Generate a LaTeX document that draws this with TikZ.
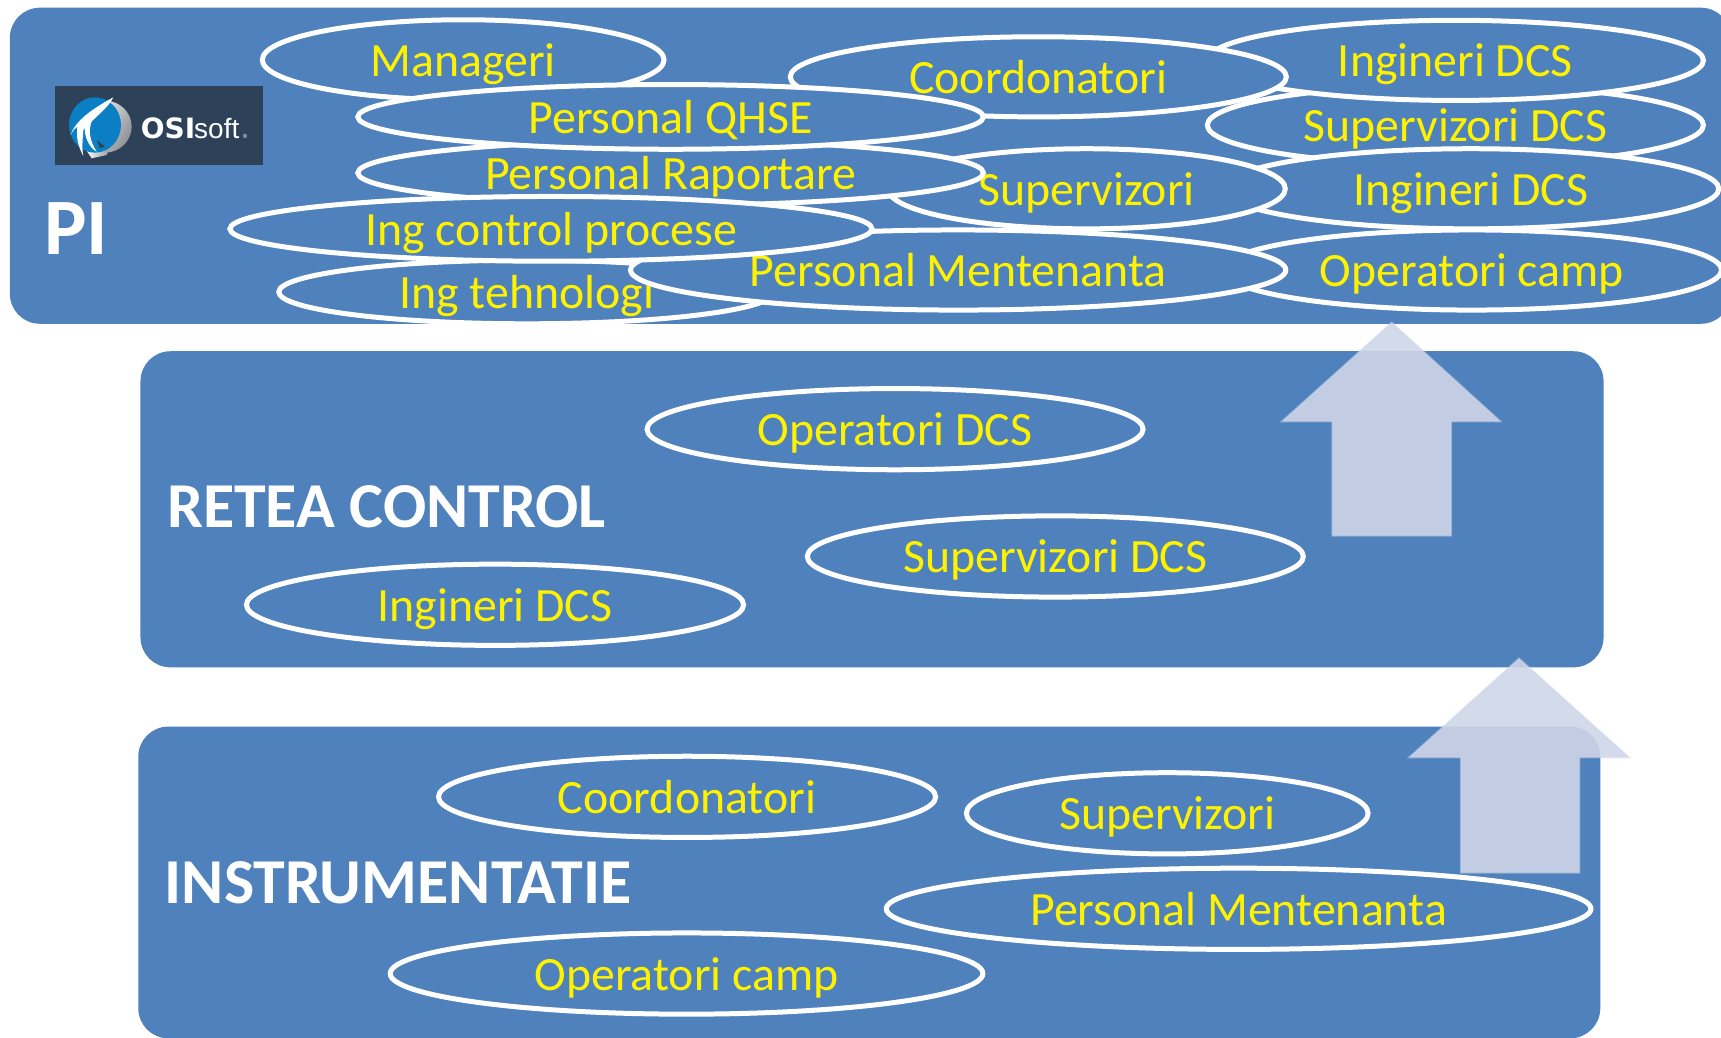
\documentclass[tikz,border=0pt]{standalone}
\usepackage{fontspec}
\setmainfont{Carlito}
\newfontfamily\logobold{DejaVu Sans}[BoldFont={DejaVu Sans Bold}]
\newfontfamily\logolight{Liberation Sans}
\usetikzlibrary{shapes.geometric}
\definecolor{bandblue}{HTML}{4F81BD}
\definecolor{arrowfill}{HTML}{CFD6E8}
\definecolor{logodark}{HTML}{2D4259}
\definecolor{logoblue}{HTML}{0A7FC4}
\definecolor{logogray}{HTML}{8E9296}
\newcommand{\ellipsefont}{\fontsize{47.8}{52}\selectfont}
\tikzset{
  x=1.0976pt,y=-1.0976pt,
  band/.style={fill=bandblue,draw=none,rounded corners=30pt},
  role/.style 2 args={ellipse,draw=white,line width=5pt,fill=bandblue,text=yellow,inner sep=0pt,
    font=\ellipsefont,text height=33pt,text depth=0pt,
    minimum width=#1*1.0976pt,minimum height=#2*1.0976pt},
  bandtitle/.style={text=white,font=\fontsize{64}{70}\selectfont\bfseries,inner sep=0pt,anchor=base west},
  uparrow/.style={fill=arrowfill,fill opacity=.9,draw=arrowfill,draw opacity=.5,line width=2pt,miter limit=10},
}
\begin{document}
\begin{tikzpicture}
\useasboundingbox (0,0) rectangle (1568,945.7);
\fill[white] (0,0) rectangle (1568,945.7);
% bands
\fill[band] (9,7) rectangle (1577,295);
\fill[band] (128,320) rectangle (1461,608);
\fill[band] (126,662) rectangle (1458,946);
% top band ellipses, lowest first
\node[role={452}{73}] (supdcsa) at (1326,114) {Supervizori DCS};
\node[role={452}{73}] (ingdcsa) at (1326,55) {Ingineri DCS};
\node[role={452}{73}] (coorda) at (946,70) {Coordonatori};
\node[role={455}{73}] (opa) at (1341,246) {Operatori camp};
\node[role={452}{73}] (ingdcsb) at (1340,172) {Ingineri DCS};
\node[role={362}{73}] (supa) at (990,172) {Supervizori};
\node[role={452}{58}] (ingteh) at (480,266) {Ing tehnologi};
\node[role={597}{73}] (menta) at (873,246) {Personal Mentenanta};
\node[role={366}{73}] (man) at (422,54.5) {Manageri};
\node[role={570}{59}] (rap) at (611,157.5) {Personal Raportare};
\node[role={585}{59}] (ingctl) at (502,208.5) {Ing control procese};
\node[role={570}{59}] (qhse) at (611,106.5) {Personal QHSE};
% middle band
\node[role={452}{74}] (opdcs) at (815.5,391) {Operatori DCS};
\node[role={452}{74}] (supdcsb) at (961.5,507) {Supervizori DCS};
\node[role={453}{74}] (ingdcsc) at (451,551) {Ingineri DCS};
% bottom band
\node[role={453}{74}] (coordb) at (626,726) {Coordonatori};
\node[role={366}{74}] (supb) at (1063.5,741) {Supervizori};
\node[role={642}{74}] (mentb) at (1128.5,828) {Personal Mentenanta};
\node[role={540}{74}] (opb) at (625.5,887) {Operatori camp};
% titles
\node[bandtitle,font=\fontsize{80}{86}\selectfont\bfseries] (titlepi) at (40,232) {PI};
\node[bandtitle] (titlenet) at (152,481) {RETEA CONTROL};
\node[bandtitle] (titleinst) at (150,823) {INSTRUMENTATIE};
% logo
\fill[logodark] (50,78) rectangle (240,150);
\begin{scope}[x=.3333pt,y=-.3333pt,shift={(50pt,-80pt)}]
  % grey crescent and tail
  \shade[left color=white,right color=logogray,shading angle=60] (165,140) ellipse (80 and 78);
  \shade[left color=white,right color=logogray] (105,205) -- (125,235) -- (170,225) -- (185,190) -- cycle;
  % blue disc
  \fill[logoblue] (135,135) ellipse (78 and 83);
  % dark notch above the tail
  \fill[logodark] (140,180) -- (165,200) -- (150,205) -- cycle;
  % white swoosh
  \fill[white] (190,52) .. controls (175,85) and (130,115) .. (100,150)
     .. controls (98,180) and (95,205) .. (100,228)
     .. controls (85,200) and (78,175) .. (82,140) .. controls (75,145) and (70,150) .. (62,165)
     .. controls (75,125) and (120,90) .. (190,52) -- cycle;
  \fill[white] (125,125) .. controls (115,150) and (118,180) .. (140,215) .. controls (120,205) and (100,170) .. (105,135) -- cycle;
  \node[text=white,inner sep=0pt,anchor=base west,font=\logobold\bfseries\fontsize{28}{30}\selectfont] (logoosi) at (272,176) {OSI};
  \node[text=white,inner sep=0pt,anchor=base west,font=\logolight\fontsize{28}{30}\selectfont] (logosoft) at (432,176) {soft};
  \node[text=white,inner sep=0pt,anchor=base west,font=\logolight\fontsize{6}{7}\selectfont] (logoreg) at (578,176) {®};
\end{scope}
% arrows
\draw[uparrow] (1268,294) -- (1367,384) -- (1322,384) -- (1322,488) -- (1214,488) -- (1214,384) -- (1168,384) -- cycle;
\draw[uparrow] (1384,600) -- (1484,690) -- (1439,690) -- (1439,795) -- (1331,795) -- (1331,690) -- (1284,690) -- cycle;
\end{tikzpicture}
\end{document}
